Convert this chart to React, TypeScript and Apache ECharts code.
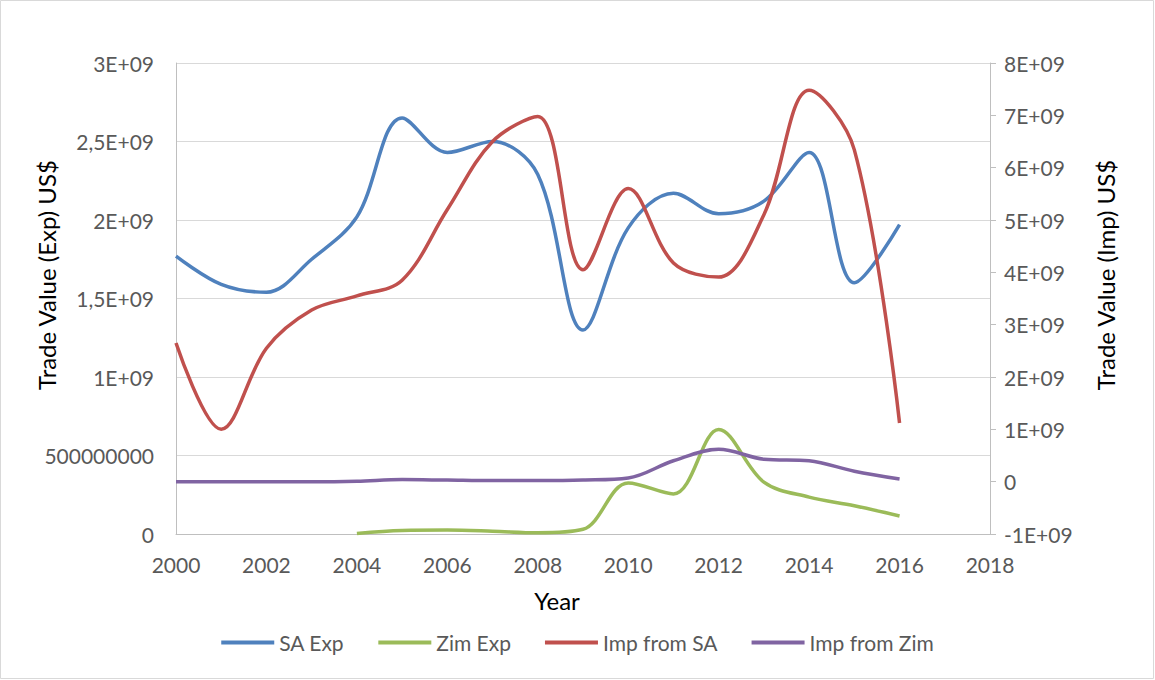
import React, { useEffect, useRef } from "react";
import * as echarts from "echarts";

const years = [2000, 2001, 2002, 2003, 2004, 2005, 2006, 2007, 2008, 2009, 2010, 2011, 2012, 2013, 2014, 2015, 2016];
// Left axis (exports)
const saExp = [1.77e9, 1.59e9, 1.54e9, 1.75e9, 2.02e9, 2.65e9, 2.43e9, 2.5e9, 2.29e9, 1.3e9, 1.95e9, 2.17e9, 2.04e9, 2.12e9, 2.43e9, 1.6e9, 1.97e9];
const zimExp = [null, null, null, null, 0.003e9, 0.022e9, 0.025e9, 0.018e9, 0.008e9, 0.03e9, 0.325e9, 0.255e9, 0.665e9, 0.33e9, 0.235e9, 0.18e9, 0.115e9];
// Right axis (imports)
const impSA = [2.65e9, 1.0e9, 2.55e9, 3.28e9, 3.55e9, 3.85e9, 5.2e9, 6.5e9, 6.98e9, 4.05e9, 5.6e9, 4.18e9, 3.91e9, 5.1e9, 7.48e9, 6.34e9, 1.12e9];
const impZim = [0.0, 0.0, 0.0, 0.0, 0.01e9, 0.04e9, 0.03e9, 0.02e9, 0.02e9, 0.03e9, 0.07e9, 0.4e9, 0.62e9, 0.43e9, 0.4e9, 0.2e9, 0.05e9];

const seriesNames = ["SA Exp", "Zim Exp", "Imp from SA", "Imp from Zim"];
const colors = ["#4F81BD", "#9BBB59", "#C0504D", "#8064A2"];
const leftTitle = "Trade Value (Exp) US$";
const rightTitle = "Trade Value (Imp) US$";
const xTitle = "Year";

const FONT = "Lato, 'Open Sans', sans-serif";

function fmtLeft(v: number): string {
  if (v === 0) return "0";
  if (v < 1e9) return String(v);
  return String(v / 1e9).replace(".", ",") + "E+09";
}
function fmtRight(v: number): string {
  if (v === 0) return "0";
  return String(v / 1e9).replace(".", ",") + "E+09";
}

function pairs(vals: (number | null)[]) {
  const out: [number, number][] = [];
  vals.forEach((v, i) => {
    if (v !== null) out.push([years[i], v]);
  });
  return out;
}

export default function App() {
  const ref = useRef<HTMLDivElement>(null);
  useEffect(() => {
    if (!ref.current) return;
    const chart = echarts.init(ref.current, null, { renderer: "svg" });
    const allVals = [saExp, zimExp, impSA, impZim];
    const axisIdx = [0, 0, 1, 1];
    const titleStyle = { fontSize: 24, fill: "#000000", fontFamily: FONT, align: "center", verticalAlign: "middle" };
    chart.setOption({
      animation: false,
      backgroundColor: "#ffffff",
      textStyle: { fontFamily: FONT },
      graphic: [
        {
          type: "rect",
          shape: { x: 0.5, y: 0.5, width: 1153, height: 678 },
          style: { fill: "none", stroke: "#d9d9d9", lineWidth: 1 },
          silent: true,
        },
        {
          type: "text",
          x: 46,
          y: 275,
          rotation: Math.PI / 2,
          style: { text: leftTitle, ...titleStyle },
          silent: true,
        },
        {
          type: "text",
          x: 1105,
          y: 275,
          rotation: Math.PI / 2,
          style: { text: rightTitle, ...titleStyle },
          silent: true,
        },
        {
          type: "text",
          x: 557,
          y: 600,
          style: { text: xTitle, ...titleStyle },
          silent: true,
        },
      ],
      grid: { left: 176, right: 165, top: 63, bottom: 146 },
      legend: {
        data: seriesNames,
        top: 627,
        left: "center",
        icon: "rect",
        itemWidth: 53,
        itemHeight: 4,
        itemGap: 34,
        textStyle: { fontSize: 21, color: "#595959", fontFamily: FONT },
      },
      xAxis: {
        type: "value",
        min: 2000,
        max: 2018,
        interval: 2,
        axisLine: { show: true, lineStyle: { color: "#bfbfbf", width: 1 } },
        axisTick: { show: false },
        splitLine: { show: false },
        axisLabel: { fontSize: 21, color: "#595959", margin: 20, fontFamily: FONT, formatter: (v: number) => String(v) },
      },
      yAxis: [
        {
          type: "value",
          min: 0,
          max: 3e9,
          interval: 5e8,
          position: "left",
          axisLine: { show: true, lineStyle: { color: "#bfbfbf", width: 1 } },
          axisTick: { show: false },
          splitLine: { show: true, lineStyle: { color: "#d9d9d9", width: 1 } },
          axisLabel: { fontSize: 21, color: "#595959", margin: 22, fontFamily: FONT, formatter: fmtLeft },
        },
        {
          type: "value",
          min: -1e9,
          max: 8e9,
          interval: 1e9,
          position: "right",
          axisLine: { show: true, lineStyle: { color: "#bfbfbf", width: 1 } },
          axisTick: { show: true, inside: false, length: 6, lineStyle: { color: "#bfbfbf" } },
          splitLine: { show: false },
          axisLabel: { fontSize: 21, color: "#595959", margin: 14, fontFamily: FONT, formatter: fmtRight },
        },
      ],
      series: seriesNames.map((name, i) => ({
        name,
        type: "line",
        yAxisIndex: axisIdx[i],
        data: pairs(allVals[i]),
        smooth: 0.35,
        showSymbol: false,
        symbol: "none",
        lineStyle: { color: colors[i], width: 3.5 },
        itemStyle: { color: colors[i] },
        z: [2, 4, 3, 5][i],
      })),
    });
    return () => chart.dispose();
  }, []);
  return <div ref={ref} style={{ position: "absolute", left: 0, top: 0, width: 1155, height: 680 }} />;
}
